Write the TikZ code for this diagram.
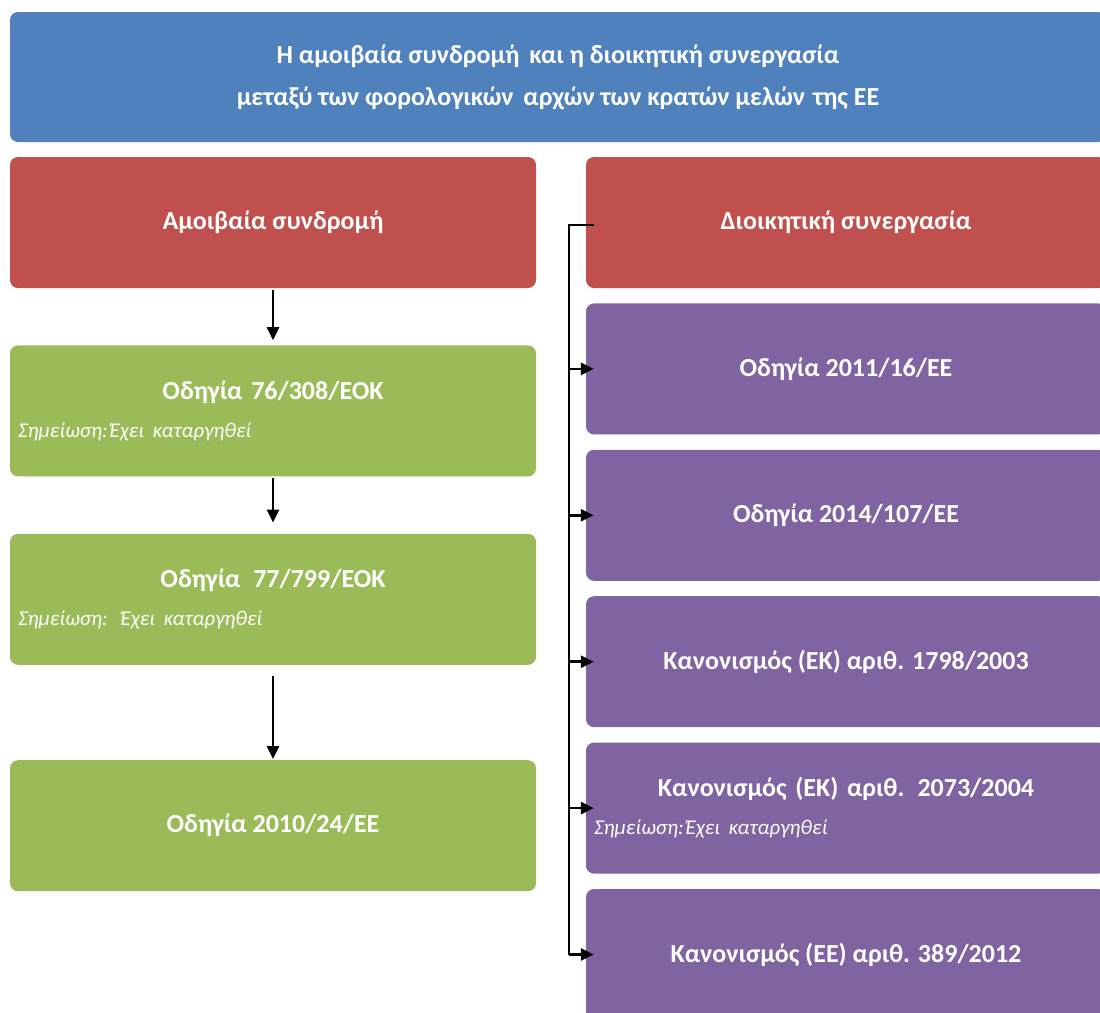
\documentclass[tikz,border=0pt]{standalone}
\usepackage{fontspec}
\setmainfont{Carlito}
\usetikzlibrary{positioning, arrows.meta}
\definecolor{hdrBlue}{HTML}{4F81BD}
\definecolor{grpRed}{HTML}{C0504D}
\definecolor{actGreen}{HTML}{9BBB59}
\definecolor{actPurple}{HTML}{8064A2}
\newcommand\notefont{\mdseries\itshape\fontsize{21}{24}\selectfont}

\begin{document}
\begin{tikzpicture}[x=1pt,y=-1pt,node distance=15pt]
  \tikzset{box/.style={rounded corners=8pt,minimum height=131pt,inner sep=0pt,text=white,align=center,font=\fontsize{26}{38}\selectfont\bfseries},
    head/.style={box,fill=hdrBlue,minimum width=1096pt,minimum height=130pt,font=\fontsize{26}{42}\selectfont\bfseries},
    group/.style={box,fill=grpRed},
    leftbox/.style={box,fill=actGreen,minimum width=526pt},
    rightbox/.style={box,fill=actPurple,minimum width=520pt},
    link/.style={-{Triangle[length=13pt,width=12pt]},line width=2.6pt}}
  \useasboundingbox (0,0) rectangle (1100,1012);
  \node[head] (title) at (558,77) {Η αμοιβαία συνδρομή\hspace{4pt} και η διοικητική συνεργασία\\ μεταξύ των φορολογικών\hspace{4pt} αρχών των κρατών μελών\hspace{2pt} της ΕΕ};
  % left column
  \node[group,minimum width=526pt] (assist) at (273,222.5) {Αμοιβαία συνδρομή};
  \node[leftbox,below=57pt of assist,text width=510pt,align=left] (d76) {\makebox[510pt]{Οδηγία 76/308/ΕΟΚ}\\{\notefont Σημείωση:\hspace{2pt}Έχει καταργηθεί}};
  \node[leftbox,below=57pt of d76,text width=510pt,align=left] (d77) {\makebox[510pt]{Οδηγία\hspace{4pt} 77/799/ΕΟΚ}\\{\notefont Σημείωση: Έχει καταργηθεί}};
  \node[leftbox,below=95pt of d77] (d2010) {Οδηγία 2010/24/ΕΕ};
  % right column
  \node[group,minimum width=520pt] (coop) at (846,222.5) {Διοικητική συνεργασία};
  \node[rightbox,below=of coop] (d2011) {Οδηγία 2011/16/ΕΕ};
  \node[rightbox,below=of d2011] (d2014) {Οδηγία 2014/107/ΕΕ};
  \node[rightbox,below=of d2014] (r1798) {Κανονισμός (ΕΚ) αριθ. 1798/2003};
  \node[rightbox,below=of r1798,text width=504pt,align=left] (r2073) {\makebox[504pt]{Κανονισμός (ΕΚ) αριθ. 2073/2004}\\{\notefont Σημείωση:\hspace{2pt}Έχει καταργηθεί}};
  \node[rightbox,below=of r2073] (r389) {Κανονισμός (ΕΕ) αριθ. 389/2012};
  % connectors
  \draw[link,shorten <=2pt,shorten >=5pt] (assist) -- (d76);
  \draw[link,shorten <=1pt,shorten >=11pt] (d76) -- (d77);
  \draw[link,shorten <=11pt,shorten >=1pt] (d77) -- (d2010);
  \coordinate (spine) at ([xshift=-17pt,yshift=-2.5pt]coop.west);
  \draw[line width=2.6pt] ([xshift=8pt,yshift=-2.5pt]coop.west) -- (spine) -- (spine |- r389.west);
  \foreach \n in {d2011,d2014,r1798,r2073,r389}
    \draw[link] (spine |- \n.west) -- ([xshift=8pt]\n.west);
\end{tikzpicture}
\end{document}
